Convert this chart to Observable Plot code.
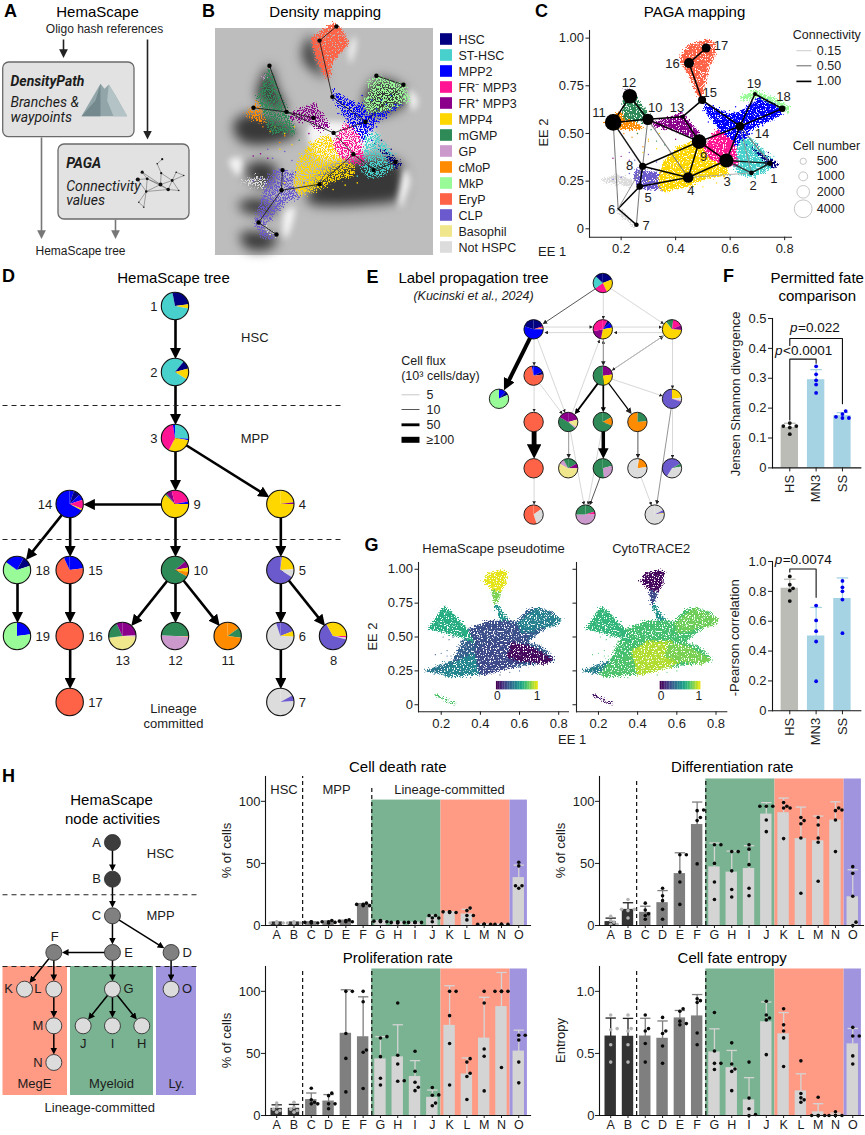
<!DOCTYPE html>
<html><head><meta charset="utf-8">
<script src="https://cdn.jsdelivr.net/npm/d3@7"></script>
<script src="https://cdn.jsdelivr.net/npm/@observablehq/plot@0.6"></script>
<style>
html,body{margin:0;padding:0;background:#fff}
#root{position:relative;width:865px;height:1135px;overflow:hidden;background:#fff}
</style></head><body>
<svg width="0" height="0" style="position:absolute">
<defs>
<filter id="grain" x="-8%" y="-8%" width="116%" height="116%" color-interpolation-filters="sRGB">
<feTurbulence type="fractalNoise" baseFrequency="0.7" numOctaves="2" seed="4" result="n"/>
<feDisplacementMap in="SourceGraphic" in2="n" scale="8" xChannelSelector="R" yChannelSelector="G" result="d"/>
<feColorMatrix in="n" type="matrix" values="0 0 0 0 0  0 0 0 0 0  0 0 0 0 0  0 0 0 14 -4.8" result="m"/>
<feComposite in="d" in2="m" operator="in"/>
</filter>
<filter id="grainSparse" x="-8%" y="-8%" width="116%" height="116%" color-interpolation-filters="sRGB">
<feTurbulence type="fractalNoise" baseFrequency="0.85" numOctaves="2" seed="9" result="n"/>
<feDisplacementMap in="SourceGraphic" in2="n" scale="10" xChannelSelector="R" yChannelSelector="G" result="d"/>
<feColorMatrix in="n" type="matrix" values="0 0 0 0 0  0 0 0 0 0  0 0 0 0 0  0 0 0 16 -7.4" result="m"/>
<feComposite in="d" in2="m" operator="in"/>
</filter>
</defs></svg>
<div id="root"></div>
<script>
// ---------- categories ----------
const cellTypes=["HSC","ST-HSC","MPP2","FR⁻ MPP3","FR⁺ MPP3","MPP4","mGMP","GP","cMoP","MkP","EryP","CLP","Basophil","Not HSPC"];
const typeColors=["#000080","#48d1cc","#0000ff","#ff1493","#8b008b","#ffd700","#2e8b57","#cc99cc","#ff8c00","#98fb98","#ff6347","#6a5acd","#f0e68c","#dcdcdc"];
const [HSC,ST,M2,FRm,FRp,M4,GMP,GP,MOP,MKP,ERY,CLP,BAS,NOT]=cellTypes;
const colorOf=t=>typeColors[cellTypes.indexOf(t)];

// ---------- embedding regions (EE 1, EE 2) ----------
const notHspcA=[[.118,.253],[.185,.288],[.246,.253],[.234,.218],[.161,.239]];
const notHspcB=[[.191,.113],[.265,.009],[.246,.009],[.179,.096]];
const cmopCloud=[[.136,.558],[.185,.611],[.222,.602],[.283,.524],[.234,.515],[.161,.532]];
const gpCloud=[[.207,.728],[.228,.738],[.234,.716],[.216,.707]];
const gmpCloud=[[.222,.724],[.259,.681],[.308,.593],[.295,.558],[.210,.576],[.204,.654]];
const clpCloud=[[.253,.314],[.344,.297],[.381,.218],[.308,.201],[.259,.218],[.246,.271]];
const frpCloud=[[.320,.558],[.424,.611],[.491,.497],[.454,.480],[.381,.524],[.320,.532]];
const mkpCloud=[[.638,.698],[.691,.728],[.772,.681],[.821,.637],[.815,.606],[.772,.629],[.691,.689],[.642,.672]];
const mpp2Cloud=[[.497,.672],[.540,.637],[.601,.602],[.644,.620],[.705,.689],[.772,.646],[.790,.602],[.674,.515],[.644,.428],[.601,.445],[.552,.532],[.515,.602]];
const stCloud=[[.632,.462],[.674,.480],[.723,.410],[.772,.340],[.748,.314],[.686,.270],[.638,.279],[.607,.332],[.625,.396]];
const hscCloud=[[.674,.428],[.723,.384],[.782,.340],[.760,.314],[.723,.358]];
const mpp4Cloud=[[.332,.244],[.356,.358],[.405,.428],[.479,.471],[.515,.410],[.589,.340],[.589,.279],[.515,.262],[.442,.218],[.356,.192]];
const frmCloud=[[.497,.428],[.552,.524],[.613,.462],[.632,.332],[.577,.332],[.528,.366]];
const eryCloud=[[.418,.907],[.442,.960],[.515,.995],[.540,.977],[.546,.916],[.522,.846],[.497,.689],[.479,.698],[.448,.803],[.420,.873]];
const clouds=[[NOT,notHspcA],[NOT,notHspcB],[CLP,clpCloud],[GP,gpCloud],[MOP,cmopCloud],[GMP,gmpCloud],[FRp,frpCloud],[MKP,mkpCloud],[M2,mpp2Cloud],[ST,stCloud],[HSC,hscCloud],[M4,mpp4Cloud],[FRm,frmCloud],[ERY,eryCloud]];
const cloudRows=clouds.flatMap(([type,pts],k)=>pts.map(([x,y])=>({type,k,x,y})));
// the density map spreads a few lineages differently
const eryDensity=[[.407,.893],[.502,.967],[.543,.930],[.564,.871],[.502,.796],[.481,.706],[.455,.743],[.427,.810]];
const mkpDensity=[[.626,.616],[.682,.72],[.80,.69],[.806,.616],[.72,.57],[.64,.56]];
const gmpDensity=[[.237,.773],[.186,.631],[.24,.47],[.35,.47],[.31,.57]];
const clpDensity=[[.228,.272],[.295,.317],[.365,.183],[.310,.168],[.212,.048],[.269,.003],[.212,-.003],[.171,.064]];
const densityRows=[...clouds.filter(c=>c[0]!==ERY),[MKP,mkpDensity],[GMP,gmpDensity],[CLP,clpDensity]].flatMap(([type,pts],k)=>pts.map(([x,y])=>({type,k,x,y})));
const eryRows=eryDensity.map(([x,y])=>({type:ERY,x,y}));

const straysMpp2=[[.56,.60],[.60,.58],[.62,.56],[.66,.62],[.68,.58],[.70,.62],[.72,.60],[.74,.64],[.76,.60],[.66,.52],[.70,.56],[.64,.48],[.66,.44],[.68,.50],[.58,.56],[.54,.60],[.50,.62],[.52,.56],[.62,.64],[.72,.54]];
const straysMpp4=[[.36,.38],[.33,.42],[.30,.47],[.34,.50],[.38,.30],[.60,.25],[.55,.24],[.50,.22],[.30,.25],[.28,.40],[.40,.43]];
const straysFrp=[[.36,.52],[.40,.47],[.42,.52],[.45,.55],[.34,.56],[.38,.57],[.20,.38],[.23,.36],[.17,.37],[.44,.50]];
const straysMop=[[.26,.50],[.30,.46],[.24,.48],[.21,.50],[.28,.43]];
const straysClp=[[.23,.29],[.20,.27],[.17,.26],[.33,.35],[.30,.39],[.23,.40],[.25,.36],[.38,.25],[.35,.20]];
const straysSt=[[.66,.38],[.70,.36],[.72,.42],[.62,.30],[.76,.38],[.60,.28],[.68,.44]];
const straysHsc=[[.70,.44],[.74,.40],[.76,.32],[.73,.34]];
const straysGmp=[[.26,.50],[.31,.52],[.36,.44],[.33,.46]];
const strayRows=[[M2,straysMpp2],[M4,straysMpp4],[FRp,straysFrp],[MOP,straysMop],[CLP,straysClp],[ST,straysSt],[HSC,straysHsc],[GMP,straysGmp]].flatMap(([type,p])=>p.map(([x,y])=>({type,x,y})));

// ---------- C: PAGA ----------
const pagaIds=d3.range(1,20);
const pagaX=[.746,.678,.586,.446,.268,.189,.256,.279,.486,.298,.171,.232,.426,.636,.497,.449,.512,.791,.691];
const pagaY=[.344,.293,.358,.269,.222,.105,.021,.328,.457,.574,.558,.695,.588,.538,.675,.869,.948,.630,.707];
const pagaCells=[370,270,2500,1430,550,30,270,660,2700,1650,3500,2700,200,950,820,1270,1030,550,200];
const pagaLabelX=[.760,.684,.589,.456,.299,.165,.292,.231,.503,.325,.119,.229,.405,.717,.525,.388,.566,.796,.687];
const pagaLabelY=[.262,.227,.244,.197,.165,.101,.013,.332,.379,.634,.607,.768,.637,.497,.715,.864,.957,.690,.759];
const pagaEdges=[[1,2,.9],[1,3,.9],[2,3,.8],[2,4,.3],[3,4,1],[3,9,1],[4,9,1],[4,8,1],[4,10,.5],[5,4,1],[5,8,1],[5,6,1],[6,7,1],[6,8,.4],[7,5,.5],[8,9,1],[8,10,.5],[8,11,.9],[6,11,.5],[10,11,1],[10,12,1],[11,12,1],[10,13,1],[10,9,1],[13,9,1],[13,15,1],[15,14,1],[15,16,1],[16,17,1],[14,9,1],[14,3,1],[14,18,1],[14,19,1],[18,19,1],[14,1,.5],[14,2,.4]];
const connLegend=[.15,.5,1];
const cellLegend=[500,1000,2000,4000];
const connColor=d3.scaleLinear([.15,.5,1],["#bdbdbd","#777","#000"]);
const connWidth=d3.scaleLinear([.15,1],[.7,1.5]);

// ---------- B: density map nodes and relief ----------
const densityX=[.758,.667,.584,.444,.287,.192,.266,.291,.502,.307,.171,.237,.419,.634,.497,.444,.514,.791,.679];
const densityY=[.343,.307,.378,.244,.217,.073,.020,.307,.473,.567,.585,.773,.540,.522,.634,.885,.948,.688,.728];
const treeEdges=[[1,2],[2,3],[3,9],[3,4],[9,14],[9,10],[14,18],[14,15],[15,16],[16,17],[18,19],[4,5],[5,6],[5,8],[6,7],[10,13],[10,12],[10,11]];
const shadows=[
 [[.372,.826],[.407,.908],[.434,.810],[.469,.713],[.448,.728],[.393,.773]],
 [[.237,.773],[.186,.631],[.310,.564],[.269,.676]],
 [[.088,.513],[.145,.558],[.310,.513],[.352,.468],[.228,.423],[.117,.437]],
 [[.626,.616],[.682,.715],[.791,.674],[.806,.616],[.723,.558],[.641,.558]],
 [[.393,.168],[.641,.154],[.778,.181],[.799,.271],[.765,.347],[.558,.347],[.434,.257]],
 [[.138,.316],[.192,.347],[.269,.316],[.228,.226],[.151,.271]],
 [[.109,.154],[.186,.181],[.269,.136],[.241,.109],[.130,.123]],
 [[.117,.020],[.186,.033],[.269,.002],[.241,-.043],[.145,-.043]]];
const highlights=[
 [[.565,.840],[.590,.905],[.595,.869],[.572,.782]],
 [[.812,.674],[.851,.616],[.827,.572]],
 [[.799,.316],[.822,.257],[.778,.137],[.770,.168]],
 [[.07,.35],[.12,.36],[.11,.28]],
 [[.30,.12],[.34,.14],[.32,.03],[.30,.00]],
 [[.40,.50],[.56,.52],[.68,.46],[.62,.38],[.44,.36]]];
const polyRows=list=>list.flatMap((p,k)=>p.map(([x,y])=>({k,x,y})));

// ---------- D: HemaScape tree ----------
const treeIds=[1,2,3,9,10,12,14,15,16,17,18,19,13,11,4,5,6,7,8];
const treeCol=[3,3,3,3,3,3,1,1,1,1,0,0,2,4,5,5,5,5,6];
const treeRow=[0,1,2,3,4,5,3,4,5,6,4,5,5,5,3,4,5,6,5];
const treeSide=["l","l","l","r","r","b","l","r","r","r","r","r","b","b","r","r","r","r","b"];
const treePies={
 1:[[HSC,.23],[M4,.05],[ST,.69],[HSC,.03]],
 2:[[ST,.11],[HSC,.10],[M4,.13],[ST,.66]],
 3:[[ST,.26],[M2,.015],[M4,.30],[FRm,.40],[M2,.025]],
 4:[[M4,.23],[FRp,.02],[M4,.75]],
 5:[[CLP,.02],[M4,.22],[NOT,.10],[CLP,.66]],
 6:[[CLP,.19],[M4,.07],[NOT,.69],[CLP,.05]],
 7:[[NOT,.17],[CLP,.07],[NOT,.76]],
 8:[[M4,.25],[FRm,.02],[NOT,.02],[CLP,.63],[M4,.08]],
 9:[[FRm,.22],[M2,.03],[M4,.62],[GMP,.02],[FRp,.07],[FRm,.04]],
 10:[[GMP,.14],[FRp,.08],[M4,.05],[MOP,.06],[GMP,.67]],
 11:[[MOP,.15],[GMP,.12],[MOP,.73]],
 12:[[GMP,.25],[MOP,.01],[GP,.5],[GMP,.24]],
 13:[[FRp,.24],[GP,.02],[BAS,.47],[GMP,.20],[FRp,.07]],
 14:[[M2,.05],[HSC,.08],[M2,.07],[FRm,.11],[M4,.02],[M2,.67]],
 15:[[M2,.23],[ERY,.70],[M2,.07]],
 16:[[ERY,1]],17:[[ERY,1]],
 18:[[M2,.08],[HSC,.12],[MKP,.65],[M2,.15]],
 19:[[M2,.23],[MKP,.77]]};
const treeArrows=[[1,2],[2,3],[3,9],[3,4],[9,14],[9,10],[14,18],[14,15],[15,16],[16,17],[18,19],[4,5],[5,6],[5,8],[6,7],[10,13],[10,12],[10,11]];

// ---------- E: label propagation tree ----------
const lpIds=["a","b","c","d","e","f","g","h","i","j","k","l","m","n","o","p","q","r","s","t"];
const lpCol=[2,0,2,4,0,2,-1,4,0,1,2,3,0,1,2,3,4,0,1.5,3.5];
const lpRow=[0,1,1,1,2,2,2.5,2.5,3,3,3,3,4,4,4,4,4,5,5,5];
const lpPies={
 a:[[HSC,.19],[M4,.24],[FRm,.22],[ST,.22],[HSC,.13]],
 b:[[HSC,.2],[FRm,.03],[M4,.02],[M2,.55],[HSC,.2]],
 c:[[FRm,.08],[HSC,.05],[M2,.09],[M4,.31],[FRp,.19],[FRm,.28]],
 d:[[GMP,.02],[FRm,.16],[FRp,.08],[M4,.63],[ST,.01],[GMP,.10]],
 e:[[M2,.18],[HSC,.05],[ERY,.74],[M2,.03]],
 f:[[FRp,.23],[M4,.25],[GMP,.52]],
 g:[[M2,.12],[HSC,.06],[MKP,.82]],
 h:[[M4,.23],[NOT,.06],[FRm,.01],[CLP,.70]],
 i:[[ERY,1]],
 j:[[FRp,.21],[BAS,.13],[GP,.03],[GMP,.46],[FRp,.17]],
 k:[[GMP,.17],[MOP,.14],[GMP,.69]],
 l:[[GMP,.24],[MOP,.76]],
 m:[[ERY,1]],
 n:[[GMP,.17],[FRp,.08],[BAS,.58],[GP,.09],[GMP,.08]],
 o:[[GMP,.21],[GP,.27],[GMP,.52]],
 p:[[NOT,.03],[MOP,.2],[NOT,.77]],
 q:[[CLP,.17],[GMP,.05],[NOT,.37],[CLP,.41]],
 r:[[ERY,.15],[NOT,.30],[ERY,.55]],
 s:[[GMP,.2],[FRm,.05],[GP,.5],[GMP,.25]],
 t:[[NOT,.17],[CLP,.05],[M4,.01],[NOT,.77]]};
const lpFlux=[["a","b",12],["a","c",5],["a","d",5],["b","c",5,-.06],["c","b",5,.06],["c","d",5,-.06],["d","c",5,.06],["b","g",80],["b","e",5],["b","j",5],["f","c",5,0],["c","f",8],["f","d",8],["d","f",5],["d","h",5],["f","h",5],["f","j",35],["f","k",30],["f","l",20],["e","i",5],["e","j",5],["j","c",5],["i","m",100],["k","o",70],["j","n",8],["j","s",5],["l","p",12],["h","t",6],["h","q",5],["m","r",5],["o","s",12],["k","s",5],["p","t",5]];
const fluxLegend=[5,10,50,100];
const fluxLabels=["5","10","50","≥100"];
const fluxWidth=f=>f<=5?.7:f<=12?.9:.8+(f-10)*.045;
const fluxColor=f=>f<=5?"#c6c6c6":f<=8?"#888":f<=12?"#444":"#000";

// ---------- F / G bars ----------
const compareNames=["HS","MN3","SS"];
const compareColors=["#bcbcb6","#a6d3e4","#a6d3e4"];
const compareDots=["#111","#0000ee","#0000ee"];
const jsDivergence=[[.15,.14,.14,.135,.113],[.34,.313,.293,.279,.251],[.19,.18,.171,.167,.167]];
const pearson=[[.90,.845,.82,.805,.735],[.705,.605,.533,.464,.198],[.87,.827,.80,.745,.52]];
const bracketA=[[0,.16],[0,.364],[1,.364],[1,.35]];
const bracketB=[[0,.41],[0,.433],[2,.433],[2,.215]];
const bracketC=[[0,.93],[0,.95],[1,.95],[1,.76]];

// ---------- G embedding patches ----------
const patches=[
 {hs:.30,ct:.70,p:[[.248,.214],[.401,.222],[.571,.276],[.775,.320],[.778,.337],[.707,.436],[.647,.461],[.707,.547],[.809,.621],[.775,.682],[.690,.724],[.639,.695],[.588,.621],[.520,.621],[.435,.596],[.367,.571],[.300,.450],[.248,.300]]},
 {hs:.40,ct:.42,p:[[.112,.251],[.248,.325],[.265,.227],[.180,.227]]},
 {hs:.72,ct:.05,p:[[.170,.080],[.280,.006],[.262,.002],[.170,.064]]},
 {hs:.62,ct:.66,p:[[.132,.559],[.214,.732],[.265,.670],[.358,.522],[.384,.448],[.299,.498],[.214,.534]]},
 {hs:.46,ct:.72,p:[[.248,.300],[.384,.399],[.401,.227],[.248,.202],[.197,.227]]},
 {hs:.24,ct:.70,p:[[.340,.560],[.435,.620],[.560,.620],[.640,.560],[.640,.460],[.450,.460],[.380,.420]]},
 {hs:.44,ct:.78,p:[[.588,.608],[.690,.724],[.775,.670],[.817,.626],[.792,.584],[.690,.560],[.605,.522]]},
 {hs:.22,ct:.88,p:[[.367,.399],[.452,.473],[.571,.473],[.656,.350],[.571,.276],[.401,.214]]},
 {hs:.03,ct:.80,p:[[.554,.461],[.639,.448],[.775,.337],[.741,.300],[.605,.313],[.537,.350]]},
 {hs:.52,ct:.50,p:[[.472,.732],[.489,.744],[.528,.658],[.545,.621],[.503,.621]]},
 {hs:.80,ct:.22,p:[[.452,.855],[.503,.830],[.486,.744],[.472,.732]]},
 {hs:.96,ct:.02,p:[[.409,.916],[.435,.966],[.503,.995],[.537,.985],[.533,.904],[.503,.830],[.452,.855]]}];
const patchRows=patches.flatMap((d,k)=>d.p.map(([x,y])=>({k,x,y,hs:d.hs,ct:d.ct})));
const rampStops=d3.range(0,1,.04);

// ---------- H: node activities ----------
const activityIds=["A","B","C","D","E","F","G","H","I","J","K","L","M","N","O"];
const activityCol=[3,3,3,5,3,1,3,4,3,2,0,1,1,1,5];
const activityRow=[0,1,2,3,3,3,4,5,5,5,4,4,5,6,4];
const activitySide=["l","l","l","r","r","t","r","b","b","b","l","l","l","l","r"];
const activityTier=["a","a","b","b","b","b","c","c","c","c","c","c","c","c","c"];
const tierFill={a:"#3d3d3d",b:"#808080",c:"#dcdcdc"};
const activityArrows=[["A","B"],["B","C"],["C","E"],["C","D"],["E","F"],["E","G"],["D","O"],["F","K"],["F","L"],["L","M"],["M","N"],["G","J"],["G","I"],["G","H"]];
const lineageBands=[{from:5.5,to:9.5,fill:"#79b391"},{from:9.5,to:13.5,fill:"#ff9a85"},{from:13.5,to:14.5,fill:"#a194de"}];
const cellDeath=[[2,2.5,2,3,1.8],[2,3,2,2.5,1.8],[2,3,2.5,2,3],[3,4,2,2.5,3],[4,4.5,3,3,3.5],[17,18,17,16,16],[3.5,4,3.5,3,3],[2.5,3,2.5,2.5,2],[2.5,2.5,2.5,2.5,2.5],[8,8,6,6,3],[11,11,10.5,10.5,11],[14,12,8,8,4.5],[1,1,1,1,1],[1,1,1,1,1],[51,48,32,32,30]];
const differentiation=[[7.5,4,2.7,.8,.8],[21,13,13,12,6],[18,12.5,9.4,8,5],[30,24,20,13,5],[57,57,43,35,17],[93,92.5,87,84.5,49.6],[65,65,50,35,21],[59.5,59.5,44,29,23],[65,61.5,49,30,24],[96,96,96,85,75.6],[99,96,94.6,94.6,70],[87,84.5,82,70.5,26],[87,81,70.5,67,35.6],[94.6,93,92.5,85,59.5],[47.4,42,23.6,2.7,0]];
const proliferation=[[10,7,5,4,2.7],[10.7,6.7,5,4,2.7],[22,12.6,10.7,9.4,9.4],[18,16,9.4,9.4,5.4],[100,100,66,46,19],[100,91.6,52.8,51,21.7],[63.5,62.4,47.4,30,24.6],[90.6,48.5,41.5,27.6,28],[51.7,35.6,26.8,22.8,20],[22.5,16.6,16.3,10,7.8],[100,100,80.4,58,24.6],[45.8,43,34,31.4,12.9],[100,90.6,53.6,47.7,19.8],[100,100,100,100,38.6],[64.6,64.6,60.8,43,26.3]];
const entropy=[[.81,.69,.70,.57,.43],[.81,.68,.70,.57,.43],[.81,.68,.70,.58,.43],[.79,.66,.68,.56,.42],[.86,.84,.76,.74,.73],[.94,.91,.925,.665,.57],[.83,.52,.42,.42,.37],[.585,.415,.375,.355,.20],[.43,.14,.054,0,.008],[.92,.81,.785,.77,.49],[.86,.73,.68,.625,.395],[.44,.177,.142,.126,.107],[.147,0,0,0,0],[.03,0,0,0,0],[.71,.64,.64,.48,.415]];

// ---------- A: icon ----------
const mountainOuter=[[81,115.7],[95,91.7],[100,83.3],[104,88.3],[108.3,84],[115,95],[126.7,115.7]];
const mountainDark=[[81,115.7],[95,100],[100,83.3],[100,115.7]];
const mountainLight=[[108.3,84],[115,95],[126.7,115.7],[113,115.7],[106.7,100]];
const iconX=[161.7,156.7,160.7,141.7,137.3,146.7,160,171.7,175.7,183.3,167.7,178.3,145.7,138.3,143.3];
const iconY=[158.7,163.3,172.7,171.7,179,178.3,184,180,171.7,175,189,190,191,201.7,206.7];
const iconSize=[1.1,.8,1.1,1.6,2.1,1.4,1.9,1.4,.8,.7,1.8,.7,1.2,.7,.7];
const iconEdges=[[0,1],[1,2],[2,6],[3,5],[4,5],[5,6],[6,7],[7,8],[8,9],[7,9],[6,10],[10,11],[5,12],[12,6],[12,10],[12,13],[13,14],[12,14],[4,12],[3,6],[2,7],[10,7],[11,7],[5,10]];

// ---------- helpers ----------
const root=document.getElementById("root");
const FONT="'Liberation Sans',Arial,sans-serif";
const INK="#1c1c1c";
function panel({box:[x0,y0,x1,y1],pad=[10,10,10,10],...opts}){
  const [pt,pr,pb,pl]=pad;
  const svg=Plot.plot({width:x1-x0+pl+pr,height:y1-y0+pt+pb,marginTop:pt,marginRight:pr,marginBottom:pb,marginLeft:pl,...opts});
  Object.assign(svg.style,{position:"absolute",left:(x0-pl)+"px",top:(y0-pt)+"px",overflow:"visible",maxWidth:"none",background:"transparent",fontFamily:FONT,color:INK});
  root.appendChild(svg);
  return svg;
}
function marker(size,fill,ref=6){
  return ()=>{const m=d3.create("svg:marker").attr("viewBox","0 -5 10 10").attr("markerWidth",size).attr("markerHeight",size).attr("orient","auto").attr("refX",ref).attr("refY",0);
    m.append("path").attr("d","M0,-5L10,0L0,5Z").attr("fill",fill).attr("stroke","none");return m.node();};
}
function pieMark(rows,radius,strokeW=1.1){
  return (index,scales)=>{
    const g=d3.create("svg:g");
    const arc=d3.arc().innerRadius(0).outerRadius(radius);
    for(const n of rows){
      const cg=g.append("g").attr("transform",`translate(${scales.x(n.x)},${scales.y(n.y)})`);
      let a=0;
      for(const [t,v] of n.slices){
        const b=a+v*2*Math.PI;
        if(v>=.999) cg.append("circle").attr("r",radius).attr("fill",colorOf(t));
        else cg.append("path").attr("d",arc({startAngle:a,endAngle:b})).attr("fill",colorOf(t));
        a=b;
      }
      cg.append("circle").attr("r",radius).attr("fill","none").attr("stroke","#111").attr("stroke-width",strokeW);
    }
    return g.node();
  };
}
function trimEnd(a,b,sx,sy,dist){
  const dx=(b.x-a.x)*sx,dy=(b.y-a.y)*sy,len=Math.hypot(dx,dy),t=1-dist/len;
  return {x1:a.x,y1:a.y,x2:a.x+(b.x-a.x)*t,y2:a.y+(b.y-a.y)*t};
}
function swarm(vals,pxPerY,pxPerX,d){
  const order=d3.range(vals.length).sort((a,b)=>vals[a]-vals[b]);
  const placed=[],out=[];
  for(const i of order){
    const py=vals[i]*pxPerY;
    for(const c of [0,1,-1,2,-2,3,-3]){
      const px=c*d*.9;
      if(placed.every(p=>Math.hypot(p[0]-px,p[1]-py)>=d)){placed.push([px,py]);out[i]=px/pxPerX;break;}
    }
    if(out[i]===undefined) out[i]=0;
  }
  return out;
}
function summarize(rows){
  return rows.map((v,i)=>({i,mean:d3.mean(v),top:d3.mean(v)+d3.deviation(v)}));
}

// ========== B ==========
const bX=[.014,.915], bY=[-.074,.997];
panel({box:[215,15,433,255],pad:[0,0,0,0],x:{domain:bX,axis:null},y:{domain:bY,axis:null},color:{type:"ordinal",domain:cellTypes,range:typeColors},
 marks:[
  Plot.rect([{}],{x1:bX[0],x2:bX[1],y1:bY[0],y2:.939,fill:"#bdbdbd"}),
  Plot.line(polyRows(shadows),{x:"x",y:"y",z:"k",fill:"#383838",curve:"catmull-rom-closed",imageFilter:"blur(6px)"}),
  Plot.line(polyRows(highlights),{x:"x",y:"y",z:"k",fill:"#f4f4f4",curve:"catmull-rom-closed",imageFilter:"blur(3px)"}),
  Plot.line(densityRows,{x:"x",y:"y",z:"k",fill:"type",imageFilter:"url(#grainSparse)"}),
  Plot.line(eryRows,{x:"x",y:"y",fill:"type",imageFilter:"url(#grain)"}),
  Plot.dot(strayRows,{x:"x",y:"y",r:.8,fill:"type"}),
  Plot.link(treeEdges,{x1:e=>densityX[e[0]-1],y1:e=>densityY[e[0]-1],x2:e=>densityX[e[1]-1],y2:e=>densityY[e[1]-1],stroke:"#111",strokeWidth:.8}),
  Plot.dot(pagaIds,{x:i=>densityX[i-1],y:i=>densityY[i-1],r:2.2,fill:"#000"})
 ]});

// legend of cell types
panel({box:[440,27,452,258],pad:[0,80,0,0],x:{axis:null,type:"band",domain:["c"],padding:0},y:{axis:null,type:"band",domain:cellTypes,padding:0},
 marks:[
  Plot.cell(cellTypes,{x:()=>"c",y:d=>d,fill:d=>colorOf(d),insetTop:2.2,insetBottom:2.2}),
  Plot.text(cellTypes,{x:()=>"c",y:d=>d,text:d=>d,textAnchor:"start",dx:12,fontSize:12.5,fill:INK})
 ]});

// ========== C ==========
const cX=[.084,.825],cY=[-.044,1.04];
panel({box:[589,30,791,236.7],pad:[0,74,20,46],x:{domain:cX},y:{domain:cY},color:{type:"ordinal",domain:cellTypes,range:typeColors},
 r:{type:"sqrt",domain:[0,4000],range:[0,8.9]},
 marks:[
  Plot.line(cloudRows,{x:"x",y:"y",z:"k",fill:"type",imageFilter:"url(#grain)"}),
  Plot.dot(strayRows,{x:"x",y:"y",r:.7,fill:"type"}),
  Plot.frame({anchor:"left",stroke:"#222",strokeWidth:1.1}),
  Plot.frame({anchor:"bottom",stroke:"#222",strokeWidth:1.1}),
  Plot.axisX({ticks:[.2,.4,.6,.8],tickSize:3.5,tickPadding:3,fontSize:13,label:null,tickFormat:d3.format(".1f")}),
  Plot.axisY({ticks:[0,.25,.5,.75,1],tickSize:3.5,tickPadding:2,fontSize:13,label:null,tickFormat:d=>d===0?"0":d.toFixed(2)}),
  Plot.link(pagaEdges,{x1:e=>pagaX[e[0]-1],y1:e=>pagaY[e[0]-1],x2:e=>pagaX[e[1]-1],y2:e=>pagaY[e[1]-1],stroke:e=>connColor(e[2]),strokeWidth:e=>connWidth(e[2])}),
  Plot.dot(pagaIds,{x:i=>pagaX[i-1],y:i=>pagaY[i-1],r:i=>pagaCells[i-1],fill:"#000"}),
  Plot.text(pagaIds,{x:i=>pagaLabelX[i-1],y:i=>pagaLabelY[i-1],text:String,fontSize:13,fill:INK}),
  // legends, in the same coordinates
  Plot.text(["Connectivity"],{x:.83,y:1.017,text:d=>d,textAnchor:"start",fontSize:12.5,fill:INK}),
  Plot.link(connLegend,{x1:.843,x2:.898,y1:(d,i)=>[.934,.855,.773][i],y2:(d,i)=>[.934,.855,.773][i],stroke:d=>connColor(d),strokeWidth:d=>connWidth(d)*1.1}),
  Plot.text(connLegend,{x:.918,y:(d,i)=>[.934,.855,.773][i],text:d=>d.toFixed(2),textAnchor:"start",fontSize:12.5,fill:INK}),
  Plot.text(["Cell number"],{x:.83,y:.432,text:d=>d,textAnchor:"start",fontSize:12.5,fill:INK}),
  Plot.dot(cellLegend,{x:.868,y:(d,i)=>[.354,.275,.194,.105][i],r:d=>d,fill:"none",stroke:"#bdbdbd",strokeWidth:.9}),
  Plot.text(cellLegend,{x:.918,y:(d,i)=>[.354,.275,.194,.105][i],text:String,textAnchor:"start",fontSize:12.5,fill:INK})
 ]});

// ========== D ==========
const treeNodes=treeIds.map((id,i)=>({id,x:treeCol[i],y:treeRow[i],side:treeSide[i],slices:treePies[id]}));
const treeById=new Map(treeNodes.map(n=>[n.id,n]));
const SX=52.67,SY=66,RD=13.7;
const treeLinks=treeArrows.map(([a,b])=>trimEnd(treeById.get(a),treeById.get(b),SX,SY,RD+4.3));
panel({box:[16.7,306,332.7,702],pad:[20,20,20,16],x:{domain:[0,6],axis:null},y:{domain:[6,0],axis:null},
 marks:[
  Plot.link(treeLinks,{x1:"x1",y1:"y1",x2:"x2",y2:"y2",stroke:"#000",strokeWidth:2.6,markerEnd:marker(4.3,"#000")}),
  pieMark(treeNodes,RD,1.1),
  Plot.text(treeNodes.filter(n=>n.side==="l"),{x:"x",y:"y",text:"id",textAnchor:"end",dx:-18,fontSize:13,fill:INK}),
  Plot.text(treeNodes.filter(n=>n.side==="r"),{x:"x",y:"y",text:"id",textAnchor:"start",fontSize:13,fill:INK,dx:18}),
  Plot.text(treeNodes.filter(n=>n.side==="b"),{x:"x",y:"y",text:"id",dy:24.5,fontSize:13,fill:INK})
 ]});

// ========== E ==========
const lpNodes=lpIds.map((id,i)=>({id,x:lpCol[i],y:lpRow[i],slices:lpPies[id]}));
const lpById=new Map(lpNodes.map(n=>[n.id,n]));
const EX=34.67,EY=46.3,RE=9.7;
const lpLinks=lpFlux.map(([a,b,f,off=0])=>{
  const A=lpById.get(a),B=lpById.get(b),thick=f>=30;
  const w=fluxWidth(f),over=thick?.4*2.9*w:.4*5.5*w;
  const t=trimEnd({x:A.x,y:A.y+off},{x:B.x,y:B.y+off},EX,EY,RE+over+.5);
  return {...t,f,thick};
});
panel({box:[499,282.7,672,514.3],pad:[12,12,12,12],x:{domain:[-1,4],axis:null},y:{domain:[5,0],axis:null},
 marks:[
  Plot.link(lpLinks.filter(d=>!d.thick),{x1:"x1",y1:"y1",x2:"x2",y2:"y2",stroke:d=>fluxColor(d.f),strokeWidth:d=>fluxWidth(d.f),markerEnd:marker(5,"#222")}),
  Plot.link(lpLinks.filter(d=>d.thick),{x1:"x1",y1:"y1",x2:"x2",y2:"y2",stroke:d=>fluxColor(d.f),strokeWidth:d=>fluxWidth(d.f),markerEnd:marker(3,"#000")}),
  pieMark(lpNodes,RE,.9)
 ]});

// ========== F and G bars ==========
function comparePanel({box,top,rows,ticks,fmt,brackets}){
  const sum=summarize(rows);
  const hpx=(box[3]-box[1])/top;
  const xd=[-.657,2.697];
  const dots=rows.flatMap((v,i)=>{const o=swarm(v,hpx,26.33,3.6);return v.map((y,j)=>({i,y,x:i+o[j]}));});
  panel({box,pad:[6,6,44,40],x:{domain:xd},y:{domain:[0,top]},
   marks:[
    Plot.rect(sum,{x1:d=>d.i-.33,x2:d=>d.i+.33,y1:0,y2:"mean",fill:d=>compareColors[d.i]}),
    Plot.link(sum,{x1:"i",x2:"i",y1:"mean",y2:"top",stroke:d=>compareColors[d.i],strokeWidth:1.3}),
    Plot.link(sum,{x1:d=>d.i-.22,x2:d=>d.i+.22,y1:"top",y2:"top",stroke:d=>compareColors[d.i],strokeWidth:1.3}),
    Plot.dot(dots,{x:"x",y:"y",r:1.9,fill:d=>compareDots[d.i]}),
    Plot.frame({anchor:"left",stroke:"#111",strokeWidth:1.1}),
    Plot.frame({anchor:"bottom",stroke:"#111",strokeWidth:1.1}),
    Plot.axisY({ticks,tickFormat:fmt,tickSize:4,tickPadding:2,fontSize:13,label:null}),
    Plot.axisX({ticks:[0,1,2],tickFormat:i=>compareNames[i],tickSize:4,tickPadding:3,tickRotate:-90,fontSize:13,label:null}),
    ...brackets.map(b=>Plot.line(b,{x:d=>d[0],y:d=>d[1],stroke:"#111",strokeWidth:1.1}))
   ]});
}
comparePanel({box:[771.7,318.3,860,467.7],top:.5,rows:jsDivergence,ticks:[0,.1,.2,.3,.4,.5],fmt:d=>d===0?"0":d.toFixed(1),brackets:[bracketA,bracketB]});
comparePanel({box:[771.7,561,860,710.3],top:1,rows:pearson,ticks:[0,.2,.4,.6,.8,1],fmt:d=>d===0?"0":d.toFixed(1),brackets:[bracketC]});

// ========== G embeddings ==========
function embedding({box,xd,yd,field,labels,rampFrom,rampTo,labelAt}){
  const step=(rampTo-rampFrom)/rampStops.length;
  panel({box,pad:[4,8,22,24],x:{domain:xd},y:{domain:yd},color:{type:"linear",scheme:"viridis",domain:[0,1]},
   marks:[
    Plot.line(patchRows,{x:"x",y:"y",z:"k",fill:field,imageFilter:"url(#grain)"}),
    Plot.dot(strayRows,{x:"x",y:"y",r:.6,fill:()=>field==="hs"?.28:.72}),
    Plot.frame({anchor:"left",stroke:"#222",strokeWidth:1.1}),
    Plot.frame({anchor:"bottom",stroke:"#222",strokeWidth:1.1}),
    Plot.axisX({ticks:[.2,.4,.6,.8],tickFormat:d3.format(".1f"),tickSize:3.5,tickPadding:3,fontSize:13,label:null}),
    Plot.axisY({ticks:[0,.25,.5,.75,1],tickSize:3.5,tickPadding:2,fontSize:13,label:null,tickFormat:labels?(d=>d===0?"0":d.toFixed(2)):()=>""}),
    Plot.rect(rampStops,{x1:(d,i)=>rampFrom+i*step,x2:(d,i)=>rampFrom+(i+1)*step+.001,y1:.11,y2:.172,fill:d=>d}),
    Plot.text(["0","1"],{x:(d,i)=>labelAt[i],y:.062,text:d=>d,fontSize:12,fill:INK})
   ]});
}
embedding({box:[418,561.7,568,711],xd:[.084,.85],yd:[-.052,1.05],field:"hs",labels:true,rampFrom:.482,rampTo:.695,labelAt:[.487,.69]});
embedding({box:[575.7,561.7,726,711],xd:[.088,.855],yd:[-.052,1.05],field:"ct",labels:false,rampFrom:.515,rampTo:.722,labelAt:[.52,.712]});

// ========== H tree ==========
const actNodes=activityIds.map((id,i)=>({id,x:activityCol[i],y:activityRow[i],side:activitySide[i],tier:activityTier[i]}));
const actById=new Map(actNodes.map(n=>[n.id,n]));
const HX=29.33,HY=36.65,RH=8;
const actLinks=activityArrows.map(([a,b])=>trimEnd(actById.get(a),actById.get(b),HX,HY,RH+2.7));
panel({box:[23.7,842,170.3,1062],pad:[16,16,16,16],x:{domain:[0,5],axis:null},y:{domain:[6,0],axis:null},
 marks:[
  Plot.link(actLinks,{x1:"x1",y1:"y1",x2:"x2",y2:"y2",stroke:"#000",strokeWidth:1.5,markerEnd:marker(4.5,"#000")}),
  Plot.dot(actNodes,{x:"x",y:"y",r:RH,fill:d=>tierFill[d.tier],stroke:"#333",strokeWidth:.9}),
  Plot.text(actNodes.filter(n=>n.side==="l"),{x:"x",y:"y",text:"id",dx:-16,fontSize:13,fill:INK}),
  Plot.text(actNodes.filter(n=>n.side==="r"),{x:"x",y:"y",text:"id",dx:16,fontSize:13,fill:INK}),
  Plot.text(actNodes.filter(n=>n.side==="b"),{x:"x",y:"y",text:"id",dy:18,fontSize:13,fill:INK}),
  Plot.text(actNodes.filter(n=>n.side==="t"),{x:"x",y:"y",text:"id",dy:-16,dx:1,fontSize:13,fill:INK})
 ]});

// ========== H bar panels ==========
function activityPanel({box,top,rows,ticks,fmt,bandTop,dashTops}){
  const spacing=17.29, left=box[0];
  const xd=[-(11.2)/spacing,(box[2]-left-11.2)/spacing];
  const hpx=(box[3]-box[1])/top;
  const sum=summarize(rows);
  const barFill=i=>i<2?"#333":i<6?"#7f7f7f":"#d4d4d4";
  const errColor=i=>i<2?"#222":i<6?"#7f7f7f":"#d4d4d4";
  const dots=rows.flatMap((v,i)=>{const o=swarm(v,hpx,spacing,3.6);return v.map((y,j)=>({i,y,x:i+o[j]}));});
  panel({box,pad:[4,6,20,34],x:{domain:xd},y:{domain:[0,top]},
   marks:[
    Plot.rect(lineageBands,{x1:"from",x2:"to",y1:0,y2:bandTop,fill:"fill"}),
    Plot.ruleX([1.5,5.5],{y1:0,y2:(d,i)=>dashTops[i],stroke:"#111",strokeWidth:1.2,strokeDasharray:"4 3"}),
    Plot.rect(sum,{x1:d=>d.i-.33,x2:d=>d.i+.33,y1:0,y2:"mean",fill:d=>barFill(d.i)}),
    Plot.link(sum,{x1:"i",x2:"i",y1:"mean",y2:"top",stroke:d=>errColor(d.i),strokeWidth:1.3}),
    Plot.link(sum,{x1:d=>d.i-.3,x2:d=>d.i+.3,y1:"top",y2:"top",stroke:d=>errColor(d.i),strokeWidth:1.3}),
    Plot.dot(dots,{x:"x",y:"y",r:1.8,fill:d=>d.i<2?"#b4b4b4":"#0a0a0a"}),
    Plot.frame({anchor:"left",stroke:"#111",strokeWidth:1.1}),
    Plot.frame({anchor:"bottom",stroke:"#111",strokeWidth:1.1}),
    Plot.axisY({ticks,tickFormat:fmt,tickSize:4,tickPadding:1,fontSize:13,label:null}),
    Plot.axisX({ticks:d3.range(15),tickFormat:i=>activityIds[i],tickSize:3,tickPadding:2,fontSize:12.5,label:null})
   ]});
}
const pct=d=>String(d);
activityPanel({box:[265,776,530,925],top:120,rows:cellDeath,ticks:[0,50,100],fmt:pct,bandTop:101,dashTops:[120,111]});
activityPanel({box:[599,776,863,925],top:120,rows:differentiation,ticks:[0,50,100],fmt:pct,bandTop:118,dashTops:[118,118]});
activityPanel({box:[265,966,530,1115],top:120,rows:proliferation,ticks:[0,50,100],fmt:pct,bandTop:118,dashTops:[118,118]});
activityPanel({box:[599,966,863,1115],top:1.2,rows:entropy,ticks:[0,.5,1],fmt:d=>d===0?"0":d.toFixed(1),bandTop:1.18,dashTops:[1.18,1.18]});

// ========== page-level annotations (page units) ==========
const boxes=[{x1:2.7,x2:134,y1:62,y2:136.7},{x1:58,x2:189,y1:144,y2:219}];
const blackArrows=[[63,39,63,58],[147,39,147,139.5]];
const greyArrows=[[41,137,41,239],[115,219,115,239]];
const dashedRows=[[2,340,405],[2,340,539],[2,196,894.3],[2,196,966]];
const hBands=[{x1:2.5,x2:67,fill:"#ff9a85"},{x1:70,x2:153,fill:"#79b391"},{x1:156,x2:196,fill:"#a194de"}];
const letters=[["A",10,11],["B",208,11],["C",541,11],["D",8,276],["E",372,277],["F",728,276],["G",371,545],["H",8,776]];
const titles=[["HemaScape",97,12],["Density mapping",324.7,12],["PAGA mapping",694,12],["HemaScape tree",173,278],["Label propagation tree",473,277.7],["Permitted fate",816.7,278],["comparison",816.7,296],["HemaScape",111,800],["node activities",112,819],["Cell death rate",397.3,767],["Differentiation rate",731.7,767],["Proliferation rate",397.3,958],["Cell fate entropy",731.7,958]];
const smallText=[["Oligo hash references",104,29],["HemaScape tree",80,251]];
const bodyText=[["HSC",254.3,337.7],["MPP",254.3,438],["Lineage",173,708.5],["committed",173,723.5],["HemaScape pseudotime",493,548],["CytoTRACE2",650.7,548],["EE 1",551.7,251.7],["EE 1",571.7,739],["HSC",160,853],["MPP",160,915],["MegE",34,1083],["Myeloid",111,1083],["Ly.",176,1083],["Lineage-committed",99.3,1107],["HSC",283.5,789],["MPP",336,789],["Lineage-committed",449,789]];
const pValueSymbols=[["p",797,327.5],["p",782,350],["p",781.7,559.3]];
const pValueRest=[["=0.022",797.5,327.5],["<0.0001",782.5,350],["=0.0074",782.2,559.3]];
const leftText=[["Cell flux",400.7,360],["(10³ cells/day)",400.7,375]];
const rotated=[["EE 2",543,132],["Jensen Shannon divergence",735,393.3],["-Pearson correlation",734.3,637.3],["EE 2",372.7,636],["% of cells",226.7,850],["% of cells",560,850],["% of cells",226.7,1040],["Entropy",560,1040]];
const italicText=[["Branches &",10,102],["waypoints",10,117],["Connectivity",65.7,186],["values",65.7,200]];
const boldItalic=[["DensityPath",10,81],["PAGA",65.7,163]];
const fluxRows=fluxLegend.map((f,i)=>({f,label:fluxLabels[i],y:[394.3,409,424.3,439.3][i]}));
const iconNodes=iconX.map((x,i)=>({x,y:iconY[i],r:iconSize[i]}));
const T=(rows,o)=>Plot.text(rows,{x:d=>d[1],y:d=>d[2],text:d=>d[0],fill:INK,...o});
const poly=(pts,fill)=>Plot.line(pts,{x:d=>d[0],y:d=>d[1],fill,curve:"linear-closed"});

// backgrounds of H tree must sit below the tree: insert first
const pageBack=panel({box:[0,0,865,1135],pad:[0,0,0,0],x:{domain:[0,865],axis:null},y:{domain:[0,1135],range:[0,1135],axis:null},
 marks:[Plot.rect(hBands,{x1:"x1",x2:"x2",y1:966,y2:1095,fill:"fill"})]});
root.insertBefore(pageBack,root.firstChild);

panel({box:[0,0,865,1135],pad:[0,0,0,0],x:{domain:[0,865],axis:null},y:{domain:[0,1135],range:[0,1135],axis:null},r:{type:"identity"},
 marks:[
  Plot.rect(boxes,{x1:"x1",x2:"x2",y1:"y1",y2:"y2",fill:"#e2e2e2",stroke:"#6a6a6a",strokeWidth:1.3,rx:6}),
  Plot.link(blackArrows,{x1:d=>d[0],y1:d=>d[1],x2:d=>d[2],y2:d=>d[3]-4,stroke:"#222",strokeWidth:1.6,markerEnd:marker(5.5,"#222")}),
  Plot.link(greyArrows,{x1:d=>d[0],y1:d=>d[1],x2:d=>d[2],y2:d=>d[3]-4,stroke:"#777",strokeWidth:1.6,markerEnd:marker(5.5,"#777")}),
  poly(mountainOuter,"#92a6a9"),poly(mountainDark,"#74898d"),poly(mountainLight,"#b4c3c5"),
  Plot.link(iconEdges,{x1:e=>iconX[e[0]],y1:e=>iconY[e[0]],x2:e=>iconX[e[1]],y2:e=>iconY[e[1]],stroke:"#555",strokeWidth:.5}),
  Plot.dot(iconNodes,{x:"x",y:"y",r:"r",fill:"#111"}),
  Plot.link(dashedRows,{x1:d=>d[0],x2:d=>d[1],y1:d=>d[2],y2:d=>d[2],stroke:"#222",strokeWidth:1.1,strokeDasharray:"5 4"}),
  Plot.link(fluxRows,{x1:401,x2:419,y1:"y",y2:"y",stroke:d=>d.f<=5?"#b0b0b0":fluxColor(d.f),strokeWidth:d=>d.f>=100?6:fluxWidth(d.f)*(d.f>=50?1.1:1)}),
  Plot.text(fluxRows,{x:426,y:"y",text:"label",textAnchor:"start",fontSize:12.5,fill:INK}),
  T(letters,{fontSize:18,fontWeight:"bold",fill:"#000"}),
  T(titles,{fontSize:15,fill:"#000"}),
  T(smallText,{fontSize:12}),
  T(bodyText,{fontSize:13}),
  T(pValueSymbols,{fontSize:13.5,fontStyle:"italic",textAnchor:"end",fill:"#111"}),
  T(pValueRest,{fontSize:13.5,textAnchor:"start",fill:"#111"}),
  T(leftText,{fontSize:12.5,textAnchor:"start"}),
  T([["(Kucinski et al., 2024)",473,295.7]],{fontSize:12.5,fontStyle:"italic"}),
  T(rotated,{fontSize:13,rotate:-90}),
  T(italicText,{fontSize:14,fontStyle:"italic",textAnchor:"start",fontFamily:"Roboto"}),
  T(boldItalic,{fontSize:14,fontStyle:"italic",fontWeight:"bold",textAnchor:"start",fontFamily:"Roboto"})
 ]});
</script></body></html>
